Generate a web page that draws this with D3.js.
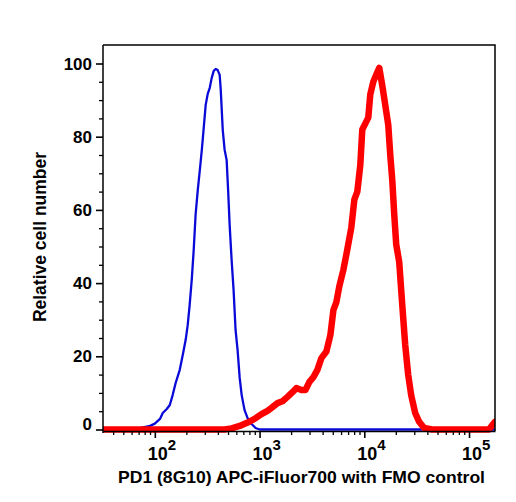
<!DOCTYPE html>
<html>
<head>
<meta charset="utf-8">
<script src="https://cdn.jsdelivr.net/npm/d3@7"></script>
<style>
  body { margin: 0; background: #fff; }
  text { font-family: "Liberation Sans", Arial, Helvetica, sans-serif; font-weight: bold; fill: #000; }
</style>
</head>
<body>
<div id="chart"></div>
<script>
// FMO control (blue) - intensity vs relative cell number
var blueX = [32, 65, 72, 90, 100, 112, 119, 130, 139, 148, 158, 173, 185, 197, 206, 215, 225, 235, 245, 257, 269, 281, 293, 306, 320, 334, 349, 365, 381, 398, 416, 426, 445, 464, 485, 501, 518, 541, 565, 590, 617, 646, 675, 719, 769, 839, 916, 1000, 177000];
var blueY = [0, 0, 0.4, 1.0, 1.6, 2.9, 4.5, 5.6, 6.7, 9.4, 12.7, 16.3, 20.4, 24.5, 28.5, 34, 40.8, 49, 58.6, 65.4, 70.9, 76.4, 82.4, 88.7, 91.7, 93.3, 96, 98, 98.5, 98.2, 96.9, 92.8, 81.9, 76.4, 73.6, 65.4, 55.9, 46.3, 38.1, 27.2, 21.7, 14.1, 9.4, 5.3, 3.1, 1.5, 0.4, 0, 0];

// PD1 (8G10) APC-iFluor700 stained (red)
var redX = [32, 464, 541, 646, 769, 896, 1044, 1191, 1300, 1484, 1656, 1849, 2062, 2250, 2512, 2742, 2993, 3267, 3566, 3893, 4346, 4744, 5070, 5412, 5781, 6310, 6887, 7519, 8035, 8579, 9162, 9572, 10233, 10914, 11402, 12190, 13002, 13900, 14825, 15488, 16943, 17701, 18493, 19320, 20184, 21544, 23013, 24569, 26242, 28026, 30620, 33420, 37250, 44460, 154900, 169400, 177000];
var redY = [0, 0, 0.3, 0.96, 1.9, 2.9, 4.2, 5.1, 5.9, 7.2, 7.7, 8.9, 10.2, 11.3, 10.8, 10.8, 13.0, 14.3, 16.3, 19.5, 21.3, 25.8, 32.6, 34.8, 39.2, 43.6, 49.2, 55.2, 62.8, 65.0, 72.3, 82.0, 83.6, 85.2, 91.5, 95.0, 96.9, 98.8, 94.1, 90.6, 83.2, 75.0, 68.2, 58.7, 50.5, 45.8, 34.2, 23.2, 15.0, 9.4, 4.5, 2.1, 0.4, 0, 0, 1.4, 2.1];

var xMajor = [100, 1000, 10000, 100000];
var xExponents = ["2", "3", "4", "5"];
var yMajor = [0, 20, 40, 60, 80, 100];
var xTitle = "PD1 (8G10) APC-iFluor700 with FMO control";
var yTitle = "Relative cell number";

var W = 516, H = 502;
var pLeft = 103, pRight = 495, pTop = 45, pBottom = 431;

var svg = d3.select("#chart").append("svg")
    .attr("width", W)
    .attr("height", H);

var x = d3.scaleLog().domain([32, 177000]).range([pLeft, pRight]);
var y = d3.scaleLinear().domain([0, 100]).range([429.5, 63.5]);

svg.append("clipPath").attr("id", "plotclip")
  .append("rect")
    .attr("x", pLeft).attr("y", pTop)
    .attr("width", pRight - pLeft).attr("height", pBottom - pTop + 5);

var line = d3.line()
    .x(function(d) { return x(d[0]); })
    .y(function(d) { return y(d[1]); });

var g = svg.append("g").attr("clip-path", "url(#plotclip)");

g.append("path")
    .datum(d3.zip(blueX, blueY))
    .attr("d", line)
    .attr("fill", "none")
    .attr("stroke", "#0a0ad8")
    .attr("stroke-width", 2.3)
    .attr("stroke-linejoin", "round");

g.append("path")
    .datum(d3.zip(redX, redY))
    .attr("d", line)
    .attr("fill", "none")
    .attr("stroke", "#ff0000")
    .attr("stroke-width", 6.5)
    .attr("stroke-linejoin", "round")
    .attr("stroke-linecap", "round");

// frame top + right
svg.append("path")
    .attr("d", "M" + pLeft + "," + pTop + "H" + pRight + "V" + pBottom)
    .attr("fill", "none")
    .attr("stroke", "#000")
    .attr("stroke-width", 1.5);

// x axis: minor then major ticks
var xMinor = x.ticks().filter(function(t) { return xMajor.indexOf(t) < 0; });
svg.append("g")
    .attr("transform", "translate(0," + pBottom + ")")
    .call(d3.axisBottom(x).tickValues(xMinor).tickSize(4).tickSizeOuter(0).tickFormat(""))
    .call(function(a) { a.selectAll("line").attr("stroke-width", 1.3); a.select(".domain").attr("stroke-width", 1.5); });
var xa = svg.append("g")
    .attr("transform", "translate(0," + pBottom + ")")
    .call(d3.axisBottom(x).tickValues(xMajor).tickSize(7).tickSizeOuter(0).tickFormat(""));
xa.selectAll("line").attr("stroke-width", 1.6);
xa.select(".domain").remove();

svg.selectAll(".xlab").data(xMajor).enter().append("text")
    .attr("class", "xlab")
    .attr("x", function(d) { return x(d) - 7; })
    .attr("y", 460)
    .style("font-size", "18px")
    .each(function(d, i) {
        var t = d3.select(this);
        t.append("tspan").text("10");
        t.append("tspan").attr("dy", -10).style("font-size", "15px").text(xExponents[i]);
    });

// y axis
var yMinor = y.ticks(20).filter(function(t) { return yMajor.indexOf(t) < 0; });
svg.append("g")
    .attr("transform", "translate(" + pLeft + ",0)")
    .call(d3.axisLeft(y).tickValues(yMinor).tickSize(4).tickSizeOuter(0).tickFormat(""))
    .call(function(a) { a.selectAll("line").attr("stroke-width", 1.3); a.select(".domain").remove(); });
var ya = svg.append("g")
    .attr("transform", "translate(" + pLeft + ",0)")
    .call(d3.axisLeft(y).tickValues(yMajor).tickSize(7).tickSizeOuter(0).tickFormat(""));
ya.selectAll("line").attr("stroke-width", 1.6);
ya.select(".domain").remove();
svg.append("line")
    .attr("x1", pLeft).attr("x2", pLeft)
    .attr("y1", pTop).attr("y2", pBottom + 2)
    .attr("stroke", "#000").attr("stroke-width", 1.5);

svg.selectAll(".ylab").data(yMajor).enter().append("text")
    .attr("class", "ylab")
    .attr("x", 92)
    .attr("y", function(d) { return y(d) + (d === 0 ? 0 : 6); })
    .attr("text-anchor", "end")
    .style("font-size", "17px")
    .text(function(d) { return d; });

svg.append("text")
    .attr("x", 301.5)
    .attr("y", 483)
    .attr("text-anchor", "middle")
    .attr("textLength", 367)
    .attr("lengthAdjust", "spacingAndGlyphs")
    .style("font-size", "17px")
    .text(xTitle);

svg.append("text")
    .attr("transform", "translate(46,237) rotate(-90)")
    .attr("text-anchor", "middle")
    .style("font-size", "17.5px")
    .text(yTitle);
</script>
</body>
</html>
